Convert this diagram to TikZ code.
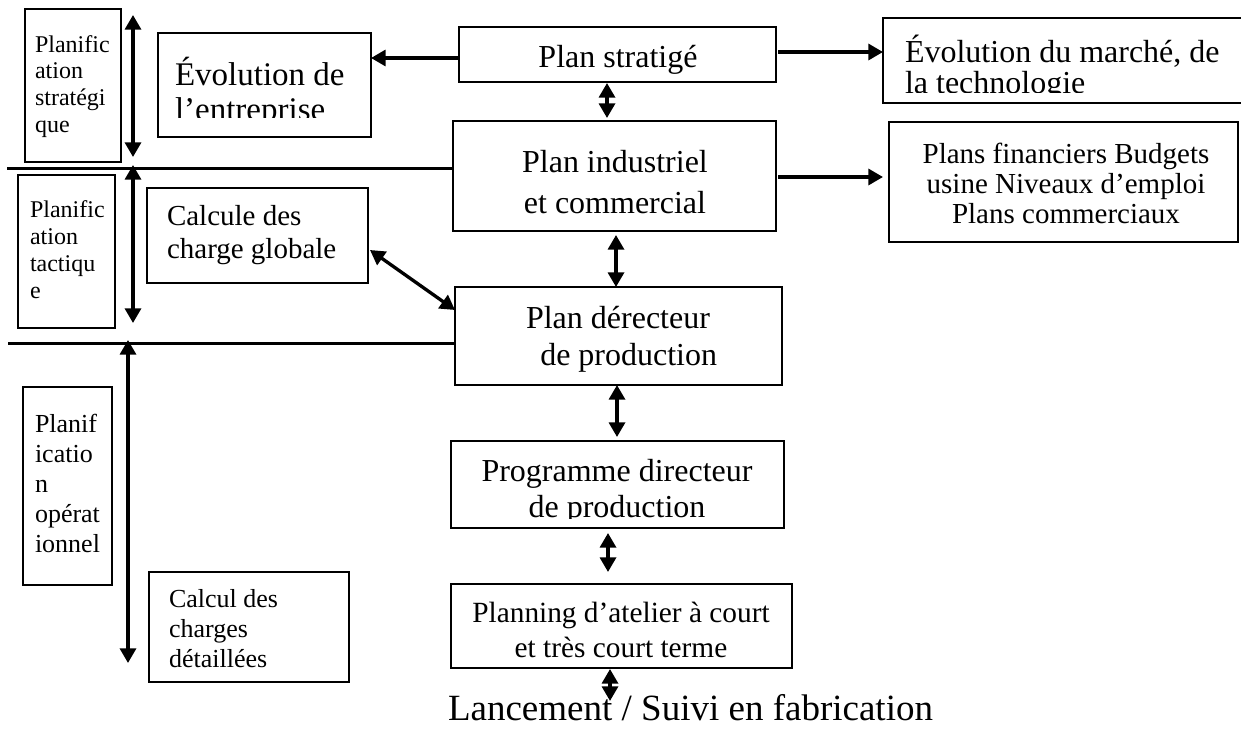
\documentclass[tikz,border=0pt]{standalone}
\usepackage{fontspec}
\setmainfont{Liberation Serif}
\usetikzlibrary{arrows.meta,calc,fit}
\newcommand\sz[2]{\fontsize{#1}{#2}\selectfont}

\begin{document}
\begin{tikzpicture}[x=0.75pt,y=-0.75pt,
  mainbox/.style={draw, line width=2pt, inner sep=0pt, outer sep=0pt},
  thinbox/.style={draw, line width=0.9pt, inner sep=0pt, outer sep=0pt},
  ctxt/.style={inner sep=0pt, outer sep=0pt, anchor=base},
  ltxt/.style={inner sep=0pt, outer sep=0pt, anchor=base west},
  conn/.style={line width=2.5pt, -{Triangle[length=11pt,width=12pt]}},
  dconn/.style={line width=2.5pt, {Triangle[length=11pt,width=12pt]}-{Triangle[length=11pt,width=12pt]}},
  sepline/.style={line width=2.25pt},
]
\useasboundingbox (0,0) rectangle (1241,728);

% ---- planning levels (left column)
\node[thinbox, fit={(25,9)(121,162)}] (lvl1) {};
\node[ltxt] (lvl1t) at (35,52) {\parbox[t]{80pt}{\raggedright\sz{18pt}{20pt}Planific\\ation\\stratégi\\que}};
\node[thinbox, fit={(18,175)(115,328)}] (lvl2) {};
\node[ltxt] (lvl2t) at (30,217) {\parbox[t]{80pt}{\raggedright\sz{18pt}{20.25pt}Planific\\ation\\tactiqu\\e}};
\node[thinbox, fit={(23,387)(112,585)}] (lvl3) {};
\node[ltxt] (lvl3t) at (35,432) {\parbox[t]{80pt}{\raggedright\sz{19.5pt}{22.5pt}Planif\\icatio\\n\\opérat\\ionnel}};

% ---- main chain
\node[mainbox, fit={(459,27)(776,82)}] (strat) {};
\node[ctxt] (stratt) at (618,67) {\sz{24pt}{28pt}Plan stratigé};

\node[mainbox, fit={(453,121)(776,231)}] (ind) {};
\node[ctxt] (indt) at (615,172) {\parbox[t]{240pt}{\centering\sz{24pt}{30.75pt}Plan industriel\\et commercial}};

\node[mainbox, fit={(455,287)(782,385)}] (der) {};
\node[ctxt] (dert) at (618,328) {\parbox[t]{240pt}{\centering\sz{24pt}{27.75pt}Plan dérecteur\\\hspace*{16pt}de production}};

\node[mainbox, fit={(451,441)(784,528)}] (prog) {};
\begin{scope}
  \clip (451,441) rectangle (784,518);
  \node[ctxt] (progt) at (617,481) {\parbox[t]{245pt}{\centering\sz{24pt}{27pt}Programme directeur\\de production}};
\end{scope}

\node[mainbox, fit={(451,584)(792,668)}] (plan) {};
\node[ctxt] (plant) at (621,622) {\parbox[t]{250pt}{\centering\sz{22pt}{26.25pt}Planning d’atelier à court\\et très court terme}};

\node[ltxt] (lanc) at (448,720) {\sz{27.75pt}{32pt}Lancement / Suivi en fabrication};

% ---- side boxes
\node[mainbox, fit={(158,33)(371,137)}] (evol) {};
\begin{scope}
  \clip (158,33) rectangle (371,117);
  \node[ltxt] (evolt) at (175,85) {\parbox[t]{150pt}{\raggedright\sz{24.75pt}{26.25pt}Évolution de\\l’entreprise}};
\end{scope}

\node[mainbox, fit={(883,18)(1250,103)}] (marche) {};
\begin{scope}
  \clip (883,18) rectangle (1241,92);
  \node[ltxt] (marchet) at (905,62) {\parbox[t]{260pt}{\raggedright\sz{24pt}{23.25pt}Évolution du marché, de\\la technologie}};
\end{scope}

\node[mainbox, fit={(889,122)(1238,242)}] (fin) {};
\node[ctxt] (fint) at (1066,163) {\parbox[t]{255pt}{\centering\sz{21.75pt}{22.5pt}Plans financiers Budgets\\usine Niveaux d’emploi\\Plans commerciaux}};

\node[thinbox, fit={(147,188)(368,283)}] (calc) {};
\node[ltxt] (calct) at (167,225) {\parbox[t]{160pt}{\raggedright\sz{21.75pt}{24.75pt}Calcule des\\charge globale}};

\node[thinbox, fit={(149,572)(349,682)}] (calcd) {};
\node[ltxt] (calcdt) at (169,607) {\parbox[t]{140pt}{\raggedright\sz{19.5pt}{22.5pt}Calcul des\\charges\\détaillées}};

% ---- level separators
\coordinate (s1) at (7,168);
\coordinate (s2) at (8,343);
\draw[sepline] (s1) -- (s1 -| ind.west);
\draw[sepline] (s2) -- (s2 -| der.west);

% ---- level extent arrows
\coordinate (a1t) at (133,15);  \coordinate (a1b) at (133,157);
\coordinate (a2t) at (133,165); \coordinate (a2b) at (133,323);
\coordinate (a3t) at (128,340); \coordinate (a3b) at (128,663);
\draw[dconn] (a1t) -- (a1b);
\draw[dconn] (a2t) -- (a2b);
\draw[dconn] (a3t) -- (a3b);

% ---- connectors
\draw[conn] ($(strat.west)+(0,3.5)$) -- ($(strat.west -| evol.east)+(0,3.5)$);
\draw[conn] ($(strat.east)+(2,-2.5)$) -- ($(strat.east -| marche.west)+(0,-2.5)$);
\draw[conn] ($(ind.east)+(2,1)$) -- ($(ind.east -| fin.west)+(-6,1)$);

\draw[dconn] ($(strat.south)+(-10.5,1)$) -- ($(ind.north)+(-7.5,-3)$);
\draw[dconn] ($(ind.south)+(1.5,4)$) -- ($(der.north)+(-2.5,0)$);
\draw[dconn] ($(der.south)+(-1.5,0)$) -- ($(prog.north)+(-0.5,-4)$);
\draw[dconn] ($(prog.south)+(-9.5,5)$) -- ($(plan.north)+(-13.5,-12)$);
\draw[dconn] ($(plan.south)+(-11.5,1)$) -- ($(lanc.north -| plan.south)+(-11.5,7)$);
\draw[dconn] ($(calc.east)+(2,14.5)$) -- ($(der.west)+(0,-26)$);
\end{tikzpicture}
\end{document}
